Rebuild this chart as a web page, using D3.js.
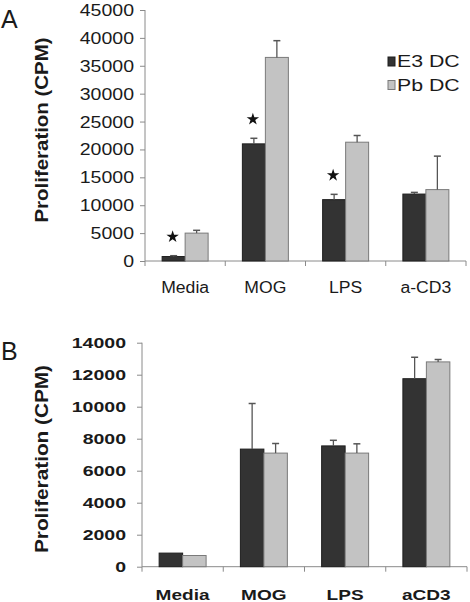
<!DOCTYPE html>
<html><head><meta charset="utf-8">
<script src="https://cdn.jsdelivr.net/npm/d3@7"></script>
<style>
html,body{margin:0;padding:0;background:#fff;}
text{font-family:"Liberation Sans",Arial,sans-serif;fill:#1a1a1a;}
</style></head>
<body>
<svg id="chart" width="470" height="602"></svg>
<script>
// ---- Data ----
const seriesNames = ["E3 DC", "Pb DC"];
const categoriesA = ["Media", "MOG", "LPS", "a-CD3"];
const e3A = [800, 21000, 11000, 12000];
const e3ErrA = [150, 1000, 950, 300];
const pbA = [5000, 36500, 21300, 12800];
const pbErrA = [500, 3000, 1200, 6000];
const sigA = [true, true, true, false];
const ticksA = [0, 5000, 10000, 15000, 20000, 25000, 30000, 35000, 40000, 45000];

const categoriesB = ["Media", "MOG", "LPS", "aCD3"];
const e3B = [850, 7350, 7550, 11750];
const e3ErrB = [0, 2850, 350, 1340];
const pbB = [700, 7100, 7100, 12800];
const pbErrB = [0, 600, 580, 150];
const ticksB = [0, 2000, 4000, 6000, 8000, 10000, 12000, 14000];

const colors = {"E3 DC": "#333333", "Pb DC": "#c3c3c3"};
const strokes = {"E3 DC": "#1e1e1e", "Pb DC": "#7a7a7a"};
const axisColor = "#8a8a8a";

const svg = d3.select("#chart");

function stretch(sel, k) {
  sel.each(function () {
    const w = this.getComputedTextLength();
    this.setAttribute("textLength", w * k);
    this.setAttribute("lengthAdjust", "spacingAndGlyphs");
  });
}

function panel(cfg) {
  const g = svg.append("g");
  const x0 = d3.scaleBand().domain(cfg.categories).range([cfg.x0, cfg.x1]).padding(0);
  const x1 = d3.scaleBand().domain(seriesNames).range([0, x0.bandwidth()])
    .paddingInner(0).paddingOuter(cfg.outer);
  const y = d3.scaleLinear().domain([0, cfg.ymax]).range([cfg.yBottom, cfg.yTop]);

  const rows = cfg.categories.map((c, i) => ({
    cat: c, i,
    vals: [
      {s: "E3 DC", v: cfg.e3[i], e: cfg.e3Err[i]},
      {s: "Pb DC", v: cfg.pb[i], e: cfg.pbErr[i]}
    ]
  }));

  // y axis
  const yAxis = g.append("g").attr("transform", `translate(${cfg.x0},0)`)
    .call(d3.axisLeft(y).tickValues(cfg.ticks).tickSize(5).tickFormat(d3.format("d")));
  yAxis.select(".domain").attr("stroke", axisColor).attr("d", `M0,${cfg.yTop}V${cfg.yBottom + 5}`);
  yAxis.selectAll(".tick line").attr("stroke", axisColor);
  const yl = yAxis.selectAll(".tick text")
    .attr("x", cfg.tickLabelX - cfg.x0).attr("dy", "0.34em").attr("fill", "#1a1a1a")
    .style("font-size", cfg.tickFont + "px").style("font-weight", cfg.bold ? "bold" : "normal")
    .style("font-family", '"Liberation Sans",Arial,sans-serif');
  stretch(yl, cfg.tickStretch);

  // x axis
  const xAxis = g.append("g").attr("transform", `translate(0,${cfg.yBottom})`);
  xAxis.append("line").attr("x1", cfg.x0).attr("x2", cfg.x1).attr("stroke", axisColor);
  xAxis.selectAll("line.tk").data(cfg.categories).enter().append("line").attr("class", "tk")
    .attr("x1", d => x0(d) + x0.bandwidth()).attr("x2", d => x0(d) + x0.bandwidth())
    .attr("y1", 0).attr("y2", 5).attr("stroke", axisColor);
  const xl = xAxis.selectAll("text").data(cfg.categories).enter().append("text")
    .attr("x", d => x0(d) + x0.bandwidth() / 2).attr("y", cfg.xLabelY - cfg.yBottom)
    .attr("text-anchor", "middle").style("font-size", cfg.xFont + "px")
    .style("font-weight", cfg.bold ? "bold" : "normal").text(d => d);
  stretch(xl, cfg.xStretch);

  // bars
  const grp = g.selectAll("g.cat").data(rows).enter().append("g")
    .attr("transform", d => `translate(${x0(d.cat)},0)`);
  grp.selectAll("rect").data(d => d.vals).enter().append("rect")
    .attr("x", d => x1(d.s)).attr("width", x1.bandwidth())
    .attr("y", d => y(d.v)).attr("height", d => y(0) - y(d.v))
    .attr("fill", d => colors[d.s]).attr("stroke", d => strokes[d.s]).attr("stroke-width", 1);
  // error bars
  const eb = grp.selectAll("g.err").data(d => d.vals.filter(v => v.e > 0)).enter().append("g");
  eb.append("line")
    .attr("x1", d => x1(d.s) + x1.bandwidth() / 2).attr("x2", d => x1(d.s) + x1.bandwidth() / 2)
    .attr("y1", d => y(d.v)).attr("y2", d => y(d.v + d.e)).attr("stroke", "#555").attr("stroke-width", 1.3);
  eb.append("line")
    .attr("x1", d => x1(d.s) + x1.bandwidth() / 2 - 3.5).attr("x2", d => x1(d.s) + x1.bandwidth() / 2 + 3.5)
    .attr("y1", d => y(d.v + d.e)).attr("y2", d => y(d.v + d.e)).attr("stroke", "#555").attr("stroke-width", 1.5);

  // significance stars
  if (cfg.sig) {
    grp.filter(d => cfg.sig[d.i]).append("path")
      .attr("d", d3.symbol(d3.symbolStar, 48))
      .attr("transform", d => `translate(${x1("E3 DC") + x1.bandwidth() / 2 - 1},${y(d.vals[0].v + d.vals[0].e) - 19})`)
      .attr("fill", "#111");
  }

  // y title
  svg.append("text")
    .attr("transform", `translate(${cfg.titleX},${cfg.titleY}) rotate(-90)`)
    .attr("text-anchor", "middle").attr("textLength", cfg.titleLen).attr("lengthAdjust", "spacingAndGlyphs")
    .style("font-size", "18px").style("font-weight", "bold").text("Proliferation (CPM)");

  // panel letter
  svg.append("text").attr("x", 1).attr("y", cfg.letterY).style("font-size", "25px").text(cfg.letter);
  return {x0, x1, y};
}

panel({
  categories: categoriesA, e3: e3A, e3Err: e3ErrA, pb: pbA, pbErr: pbErrA, sig: sigA,
  ticks: ticksA, ymax: 45000, x0: 145, x1: 466, outer: 0.745, yTop: 10, yBottom: 261,
  tickLabelX: 134, tickFont: 16, tickStretch: 1.22, xFont: 16, xStretch: 1.1, xLabelY: 293,
  bold: false, titleX: 48, titleY: 130, titleLen: 185, letter: "A", letterY: 28
});

panel({
  categories: categoriesB, e3: e3B, e3Err: e3ErrB, pb: pbB, pbErr: pbErrB, sig: null,
  ticks: ticksB, ymax: 14000, x0: 142, x1: 467, outer: 0.73, yTop: 342.7, yBottom: 566.7,
  tickLabelX: 126, tickFont: 15, tickStretch: 1.3, xFont: 15, xStretch: 1.27, xLabelY: 600,
  bold: true, titleX: 48, titleY: 459, titleLen: 188, letter: "B", letterY: 360
});

// legend (panel A)
const leg = svg.append("g").selectAll("g").data(seriesNames).enter().append("g")
  .attr("transform", (d, i) => `translate(388,${57 + i * 23.5})`);
leg.append("rect").attr("width", 7).attr("height", 9)
  .attr("fill", d => colors[d]).attr("stroke", d => strokes[d]);
const lt = leg.append("text").attr("x", 9).attr("y", 10).style("font-size", "16px").text(d => d);
stretch(lt, 1.33);
</script>
</body></html>
